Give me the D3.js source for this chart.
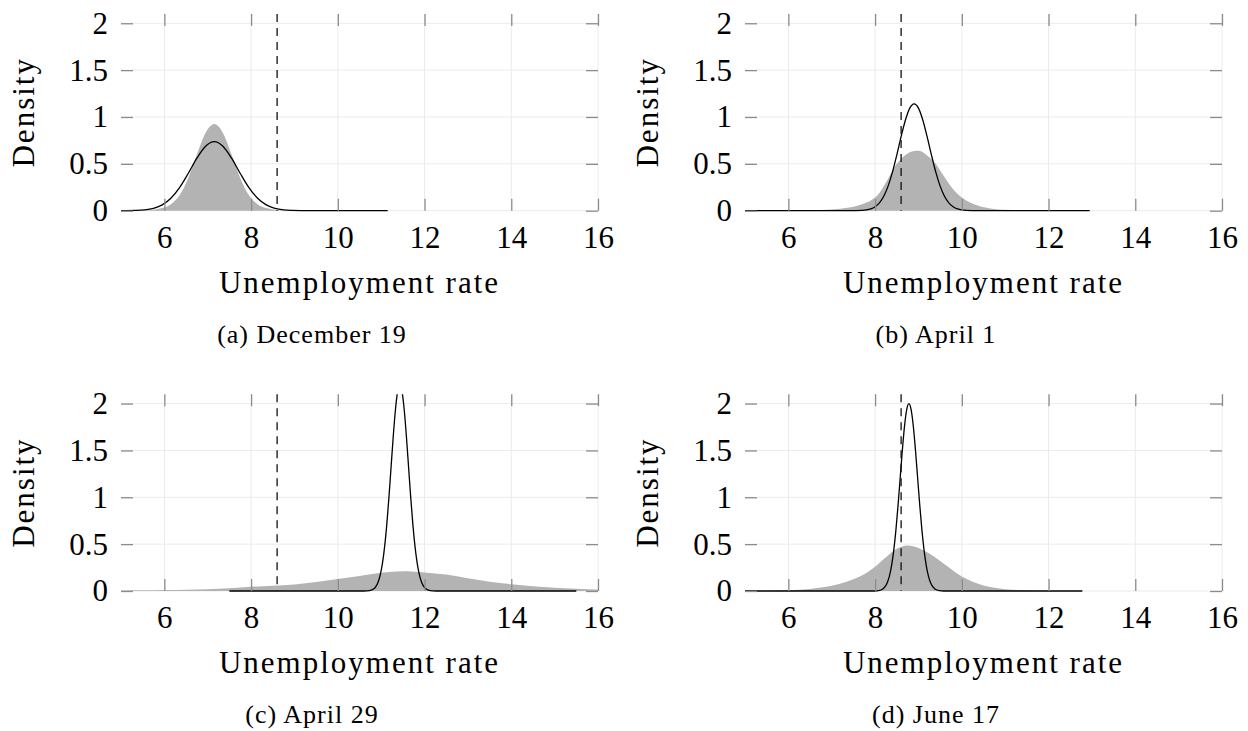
<!DOCTYPE html>
<html>
<head>
<meta charset="utf-8">
<script src="https://cdn.jsdelivr.net/npm/d3@7"></script>
<style>
  body { margin: 0; background: #fff; }
</style>
</head>
<body>
<svg id="fig" width="1248" height="731"></svg>
<script>
// panel captions and axes
const captions = ["(a) December 19", "(b) April 1", "(c) April 29", "(d) June 17"];
const xTicks = [6, 8, 10, 12, 14, 16];
const yTicks = [0, 0.5, 1, 1.5, 2];
const currentRate = 8.6;

// shaded density, [rate, density]
const dec19Shaded = [[5.3,0],[5.55,0.003],[5.75,0.01],[5.95,0.028],[6.15,0.07],[6.35,0.164],[6.55,0.35],[6.75,0.6],[6.95,0.83],[7.15,0.925],[7.35,0.83],[7.55,0.6],[7.75,0.35],[7.95,0.164],[8.15,0.07],[8.35,0.028],[8.55,0.01],[8.75,0.003],[9.0,0]];
const apr1Shaded = [[6.0,0],[6.5,0.003],[7.0,0.012],[7.4,0.035],[7.7,0.07],[7.9,0.11],[8.0,0.14],[8.1,0.19],[8.2,0.26],[8.3,0.34],[8.4,0.43],[8.5,0.5],[8.6,0.555],[8.7,0.595],[8.8,0.625],[8.9,0.638],[9.0,0.64],[9.1,0.625],[9.2,0.59],[9.3,0.55],[9.4,0.5],[9.5,0.43],[9.6,0.36],[9.7,0.29],[9.8,0.23],[9.9,0.18],[10.0,0.14],[10.2,0.085],[10.4,0.05],[10.7,0.022],[11.0,0.009],[11.5,0.002],[12.0,0]];
const apr29Shaded = [[5.0,0.005],[5.5,0.007],[6.0,0.01],[6.5,0.014],[7.0,0.02],[7.5,0.03],[8.0,0.045],[8.5,0.055],[9.0,0.07],[9.5,0.095],[10.0,0.127],[10.5,0.16],[11.0,0.195],[11.5,0.212],[12.0,0.198],[12.5,0.175],[13.0,0.135],[13.5,0.1],[14.0,0.072],[14.5,0.05],[15.0,0.034],[15.5,0.024],[16.0,0.016]];
const jun17Shaded = [[5.5,0.002],[6.0,0.008],[6.5,0.022],[7.0,0.055],[7.25,0.085],[7.5,0.125],[7.75,0.18],[8.0,0.26],[8.25,0.36],[8.5,0.45],[8.75,0.485],[9.0,0.46],[9.25,0.4],[9.5,0.32],[9.75,0.235],[10.0,0.155],[10.25,0.1],[10.5,0.06],[10.75,0.035],[11.0,0.02],[11.5,0.006],[12.0,0.001],[12.5,0]];

// model density (black line), [rate, density]
const dec19Line = [[5,0.001],[5.35,0.003],[5.55,0.009],[5.75,0.026],[5.95,0.062],[6.15,0.133],[6.35,0.246],[6.55,0.397],[6.75,0.56],[6.95,0.688],[7.15,0.737],[7.35,0.688],[7.55,0.56],[7.75,0.397],[7.95,0.246],[8.15,0.133],[8.35,0.062],[8.55,0.026],[8.75,0.009],[8.95,0.003],[9.15,0.001],[9.6,0],[11.15,0]];
const apr1Line = [[5,0],[7.4,0],[7.7,0.003],[7.9,0.019],[8.0,0.042],[8.1,0.084],[8.2,0.154],[8.3,0.262],[8.4,0.411],[8.5,0.594],[8.6,0.79],[8.7,0.968],[8.8,1.095],[8.9,1.14],[9.0,1.095],[9.1,0.968],[9.2,0.79],[9.3,0.594],[9.4,0.411],[9.5,0.262],[9.6,0.154],[9.7,0.084],[9.8,0.042],[9.9,0.019],[10.1,0.003],[10.4,0],[12.95,0]];
const apr29Line = [[7.5,0],[10.6,0],[10.73,0.005],[10.83,0.024],[10.88,0.05],[10.93,0.097],[10.98,0.175],[11.03,0.298],[11.08,0.476],[11.13,0.714],[11.18,1.007],[11.23,1.334],[11.28,1.66],[11.33,1.94],[11.38,2.13],[11.43,2.2],[11.48,2.13],[11.53,1.94],[11.58,1.66],[11.63,1.334],[11.68,1.007],[11.73,0.714],[11.78,0.476],[11.83,0.298],[11.88,0.175],[11.93,0.097],[11.98,0.05],[12.03,0.024],[12.13,0.005],[12.26,0],[15.5,0]];
const jun17Line = [[5,0],[7.98,0],[8.08,0.004],[8.18,0.022],[8.23,0.046],[8.28,0.088],[8.33,0.159],[8.38,0.271],[8.43,0.433],[8.48,0.649],[8.53,0.916],[8.58,1.213],[8.63,1.51],[8.68,1.765],[8.73,1.938],[8.78,2.0],[8.83,1.938],[8.88,1.765],[8.93,1.51],[8.98,1.213],[9.03,0.916],[9.08,0.649],[9.13,0.433],[9.18,0.271],[9.23,0.159],[9.28,0.088],[9.33,0.046],[9.38,0.022],[9.48,0.004],[9.58,0],[12.78,0]];

const shadedSeries = [dec19Shaded, apr1Shaded, apr29Shaded, jun17Shaded];
const lineSeries = [dec19Line, apr1Line, apr29Line, jun17Line];

const serif = "'Liberation Serif', 'Times New Roman', serif";

const svg = d3.select("#fig").style("font-family", serif);
const panelW = 624;
const rowH = 380.3;
const margin = { top: 13.9, left: 121 };
const plotW = 477;
const plotH = 196.8;
const tickLen = 12;

const x = d3.scaleLinear().domain([5, 16]).range([0, plotW]);
const y = d3.scaleLinear().domain([0, 2.1]).range([plotH, 0]);

svg.append("defs").append("clipPath")
  .attr("id", "plotClip")
  .append("rect")
  .attr("x", 0).attr("y", 0)
  .attr("width", plotW).attr("height", plotH + 2);

const area = d3.area()
  .x(d => x(d[0]))
  .y0(y(0))
  .y1(d => y(d[1]))
  .curve(d3.curveMonotoneX);

const line = d3.line()
  .x(d => x(d[0]))
  .y(d => y(d[1]))
  .curve(d3.curveMonotoneX);

function label(sel, size, spacing) {
  return sel
    .style("font-family", serif)
    .style("font-size", size + "px")
    .style("letter-spacing", spacing + "px")
    .attr("fill", "#000");
}

captions.forEach((caption, i) => {
  const col = i % 2;
  const row = Math.floor(i / 2);
  const g = svg.append("g")
    .attr("transform", `translate(${col * panelW + margin.left},${row * rowH + margin.top})`);

  // grid
  g.append("g").selectAll("line")
    .data(xTicks)
    .join("line")
    .attr("x1", d => x(d)).attr("x2", d => x(d))
    .attr("y1", 0).attr("y2", plotH)
    .attr("stroke", "#ebebeb").attr("stroke-width", 1);

  g.append("g").selectAll("line")
    .data(yTicks)
    .join("line")
    .attr("x1", 0).attr("x2", plotW)
    .attr("y1", d => y(d)).attr("y2", d => y(d))
    .attr("stroke", "#ebebeb").attr("stroke-width", 1);

  const plot = g.append("g").attr("clip-path", "url(#plotClip)");

  plot.append("path")
    .datum(shadedSeries[i])
    .attr("d", area)
    .attr("fill", "#b3b3b3");

  plot.append("path")
    .datum(lineSeries[i])
    .attr("d", line)
    .attr("fill", "none")
    .attr("stroke", "#000")
    .attr("stroke-width", 1.3);

  g.append("line")
    .attr("x1", x(currentRate)).attr("x2", x(currentRate))
    .attr("y1", 0).attr("y2", plotH)
    .attr("stroke", "#111")
    .attr("stroke-width", 1.3)
    .attr("stroke-dasharray", "8,6");

  // ticks on all four sides, pointing inward
  g.append("g")
    .attr("transform", `translate(0,${plotH})`)
    .call(d3.axisBottom(x).tickValues(xTicks).tickSize(-tickLen).tickPadding(15).tickFormat(d3.format("d")));
  g.append("g")
    .call(d3.axisLeft(y).tickValues(yTicks).tickSize(-tickLen).tickPadding(13).tickFormat(d => String(d)));
  g.append("g")
    .call(d3.axisTop(x).tickValues(xTicks).tickSize(-tickLen).tickFormat(""));
  g.append("g")
    .attr("transform", `translate(${plotW},0)`)
    .call(d3.axisRight(y).tickValues(yTicks).tickSize(-tickLen).tickFormat(""));

  g.selectAll(".domain").remove();
  g.selectAll(".tick line").attr("stroke", "#8c8c8c").attr("stroke-width", 1.3);
  label(g.selectAll(".tick text"), 31, 0);

  // axis titles
  label(g.append("text"), 31, 2)
    .attr("x", plotW / 2)
    .attr("y", plotH + 82.3)
    .attr("text-anchor", "middle")
    .text("Unemployment rate");

  label(g.append("text"), 31, 2)
    .attr("transform", `translate(${34 - margin.left},${plotH / 2}) rotate(-90)`)
    .attr("text-anchor", "middle")
    .text("Density");

  label(g.append("text"), 26, 1)
    .attr("x", panelW / 2 - margin.left)
    .attr("y", 343 - margin.top)
    .attr("text-anchor", "middle")
    .text(caption);
});
</script>
</body>
</html>
